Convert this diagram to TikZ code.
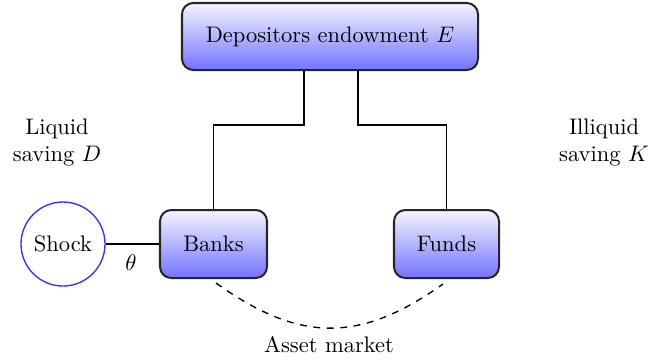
\documentclass[tikz,border=0pt]{standalone}
\begin{document}
\begin{tikzpicture}[x=0.015625cm,y=-0.015625cm,
  boxnode/.style={draw=black!85,line width=0.9pt,rounded corners=5pt,top color=blue!4,bottom color=blue!55,inner sep=0pt,align=center},
  shocknode/.style={draw=blue!80,circle,line width=0.6pt,minimum size=84*0.015625cm,inner sep=0pt},
  link/.style={draw=black,line width=0.7pt},
  plainlabel/.style={align=center,inner sep=0pt}]
\useasboundingbox (0,0) rectangle (649,360);
\node[boxnode,minimum width=296*0.015625cm,minimum height=67*0.015625cm] (dep) at (330,36.5) {Depositors endowment $E$};
\node[boxnode,minimum width=107*0.015625cm,minimum height=68*0.015625cm] (banks) at (213.5,244) {Banks};
\node[boxnode,minimum width=105*0.015625cm,minimum height=68*0.015625cm] (funds) at (446.5,244) {Funds};
\node[shocknode] (shock) at (63,244) {Shock};
\node[plainlabel] (liq) at (57,142) {Liquid\\saving $D$};
\node[plainlabel] (illiq) at (604,142) {Illiquid\\saving $K$};
\node[plainlabel] (theta) at (131,263) {$\theta$};
\node[plainlabel] (asset) at (329,345) {Asset market};
\coordinate (lt) at (304,125);
\coordinate (rt) at (358,125);
\draw[link] (dep.south -| lt) -- (lt) -| (banks.north);
\draw[link] (dep.south -| rt) -- (rt) -| (funds.north);
\draw[link] (shock.east) -- (banks.west);
\coordinate (a1) at (216,283);
\coordinate (a2) at (443,284);
\draw[dashed,line width=0.6pt] (a1) .. controls (300,343) and (360,343) .. (a2);
\end{tikzpicture}
\end{document}
